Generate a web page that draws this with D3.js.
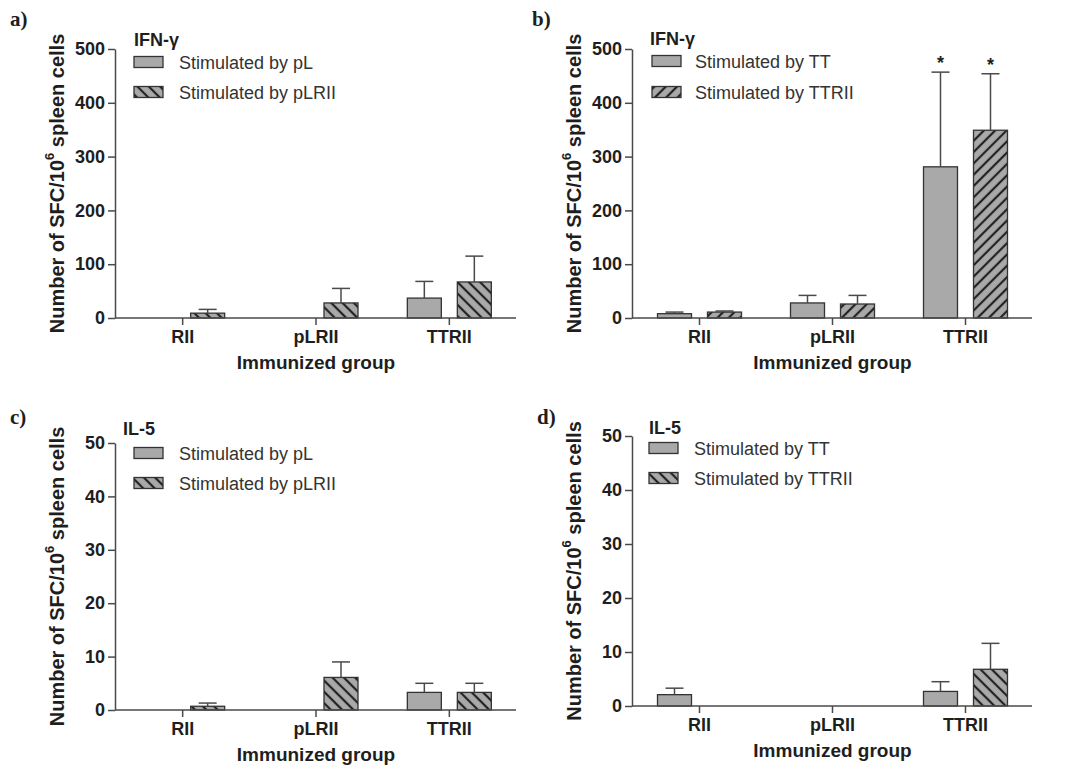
<!DOCTYPE html>
<html>
<head>
<meta charset="utf-8">
<script src="https://cdnjs.cloudflare.com/ajax/libs/d3/7.8.5/d3.min.js"></script>
<style>
  html, body { margin: 0; padding: 0; background: #ffffff; }
  svg { display: block; }
</style>
</head>
<body>
<svg id="chart" width="1089" height="776"></svg>
<script>
// ---------------- DATA ----------------
const categories = ["RII", "pLRII", "TTRII"];

const ticksIFN = [0, 100, 200, 300, 400, 500];
const ticksIL5 = [0, 10, 20, 30, 40, 50];

// Panel a) IFN-γ, stimulated by pL / pLRII
const seriesA = ["Stimulated by pL", "Stimulated by pLRII"];
const aPL      = [null, null, 37];
const aPLErr   = [null, null, 68];
const aPLRII   = [9, 28, 67];
const aPLRIIErr= [16, 55, 115];

// Panel b) IFN-γ, stimulated by TT / TTRII
const seriesB = ["Stimulated by TT", "Stimulated by TTRII"];
const bTT       = [8, 28, 281];
const bTTErr    = [11, 42, 457];
const bTTRII    = [11, 26, 349];
const bTTRIIErr = [13, 42, 454];
const bSignif   = [false, false, true];

// Panel c) IL-5, stimulated by pL / pLRII
const seriesC = ["Stimulated by pL", "Stimulated by pLRII"];
const cPL       = [null, null, 3.3];
const cPLErr    = [null, null, 5.0];
const cPLRII    = [0.7, 6.1, 3.3];
const cPLRIIErr = [1.3, 9.0, 5.0];

// Panel d) IL-5, stimulated by TT / TTRII
const seriesD = ["Stimulated by TT", "Stimulated by TTRII"];
const dTT       = [2.1, null, 2.7];
const dTTErr    = [3.3, null, 4.5];
const dTTRII    = [null, null, 6.8];
const dTTRIIErr = [null, null, 11.6];

// ---------------- LAYOUT ----------------
const panels = [
  { tag: "a)", tagX: 10, tagY: 26, title: "IFN-γ", ticks: ticksIFN, max: 500,
    x0: 115, x1: 516, yTop: 49, yBot: 318, ylabX: 57,
    titleX: 134, titleY: 46, legX: 134, legTextX: 179, legY: [62, 92], hatch: "hatchBack",
    series: seriesA, vals: [aPL, aPLRII], errs: [aPLErr, aPLRIIErr], sig: null },
  { tag: "b)", tagX: 532, tagY: 26, title: "IFN-γ", ticks: ticksIFN, max: 500,
    x0: 632, x1: 1032, yTop: 49, yBot: 318, ylabX: 574,
    titleX: 650, titleY: 45, legX: 652, legTextX: 695, legY: [61, 92], hatch: "hatchFwd",
    series: seriesB, vals: [bTT, bTTRII], errs: [bTTErr, bTTRIIErr], sig: bSignif },
  { tag: "c)", tagX: 10, tagY: 424, title: "IL-5", ticks: ticksIL5, max: 50,
    x0: 115, x1: 516, yTop: 443, yBot: 710, ylabX: 57,
    titleX: 123, titleY: 435, legX: 134, legTextX: 179, legY: [453, 483], hatch: "hatchBack",
    series: seriesC, vals: [cPL, cPLRII], errs: [cPLErr, cPLRIIErr], sig: null },
  { tag: "d)", tagX: 537, tagY: 424, title: "IL-5", ticks: ticksIL5, max: 50,
    x0: 632, x1: 1032, yTop: 436, yBot: 706, ylabX: 574,
    titleX: 649, titleY: 434, legX: 649, legTextX: 694, legY: [448, 478], hatch: "hatchBack",
    series: seriesD, vals: [dTT, dTTRII], errs: [dTTErr, dTTRIIErr], sig: null }
];

const FILL = "#a9a9a9";
const EDGE = "#333333";
const AXIS = "#4a4a4a";
const TEXT = "#1e1e1e";
const SANS = "'Liberation Sans', Arial, sans-serif";
const SERIF = "'Liberation Serif', 'Times New Roman', serif";

const svg = d3.select("#chart");
svg.append("rect").attr("width", 1089).attr("height", 776).attr("fill", "#ffffff");

// hatch patterns
const defs = svg.append("defs");
[["hatchBack", -45], ["hatchFwd", 45]].forEach(([id, ang]) => {
  const p = defs.append("pattern")
    .attr("id", id)
    .attr("patternUnits", "userSpaceOnUse")
    .attr("width", 8).attr("height", 8)
    .attr("patternTransform", `rotate(${ang})`);
  p.append("rect").attr("width", 8).attr("height", 8).attr("fill", FILL);
  p.append("line").attr("x1", 4).attr("y1", -1).attr("x2", 4).attr("y2", 9)
    .attr("stroke", "#222").attr("stroke-width", 2.2);
});

panels.forEach(P => {
  const g = svg.append("g");

  const x = d3.scaleBand().domain(categories).range([P.x0 + 1, P.x1]).padding(0);
  const xs = d3.scaleBand().domain([0, 1]).range([-42, 42]).paddingInner(0.32).paddingOuter(0);
  const y = d3.scaleLinear().domain([0, P.max]).range([P.yBot, P.yTop]);

  // panel tag
  g.append("text").attr("x", P.tagX).attr("y", P.tagY)
    .attr("font-family", SERIF).attr("font-weight", "bold").attr("font-size", 21)
    .attr("fill", TEXT).text(P.tag);

  // bars
  P.vals.forEach((arr, si) => {
    categories.forEach((c, ci) => {
      const v = arr[ci];
      if (v == null) return;
      const bx = x(c) + x.bandwidth() / 2 + xs(si);
      g.append("rect")
        .attr("x", bx).attr("y", y(v))
        .attr("width", xs.bandwidth()).attr("height", y(0) - y(v))
        .attr("fill", si === 0 ? FILL : `url(#${P.hatch})`)
        .attr("stroke", EDGE).attr("stroke-width", 1.3);
      const e = P.errs[si][ci];
      if (e != null) {
        const cx = bx + xs.bandwidth() / 2;
        g.append("line").attr("x1", cx).attr("x2", cx).attr("y1", y(v)).attr("y2", y(e))
          .attr("stroke", AXIS).attr("stroke-width", 1.5);
        g.append("line").attr("x1", cx - 9).attr("x2", cx + 9).attr("y1", y(e)).attr("y2", y(e))
          .attr("stroke", AXIS).attr("stroke-width", 1.5);
        if (P.sig && P.sig[ci]) {
          g.append("text").attr("x", cx).attr("y", y(e) - 3)
            .attr("text-anchor", "middle")
            .attr("font-family", SANS).attr("font-weight", "bold").attr("font-size", 18)
            .attr("fill", TEXT).text("*");
        }
      }
    });
  });

  // y axis
  const ya = g.append("g").attr("transform", `translate(${P.x0},0)`)
    .call(d3.axisLeft(y).tickValues(P.ticks).tickSize(7).tickSizeOuter(0).tickPadding(3));
  ya.select(".domain").attr("stroke", AXIS).attr("stroke-width", 1.5);
  ya.selectAll(".tick line").attr("stroke", AXIS).attr("stroke-width", 1.5);
  ya.selectAll(".tick text").attr("font-family", SANS).attr("font-weight", "bold")
    .attr("font-size", 18).attr("fill", TEXT);

  // x axis
  const xa = g.append("g").attr("transform", `translate(0,${P.yBot})`)
    .call(d3.axisBottom(x).tickSize(7).tickSizeOuter(0).tickPadding(5));
  xa.select(".domain").attr("stroke", AXIS).attr("stroke-width", 1.5)
    .attr("d", `M${P.x0},0H${P.x1}`);
  xa.selectAll(".tick line").attr("stroke", AXIS).attr("stroke-width", 1.5);
  xa.selectAll(".tick text").attr("font-family", SANS).attr("font-weight", "bold")
    .attr("font-size", 18).attr("fill", TEXT);

  // axis titles
  g.append("text")
    .attr("x", (x.range()[0] + x.range()[1]) / 2).attr("y", P.yBot + 51)
    .attr("text-anchor", "middle")
    .attr("font-family", SANS).attr("font-weight", "bold").attr("font-size", 19)
    .attr("fill", TEXT).text("Immunized group");

  const yl = g.append("text")
    .attr("transform", `translate(${P.ylabX},${(P.yTop + P.yBot) / 2}) rotate(-90)`)
    .attr("text-anchor", "middle").attr("dominant-baseline", "central")
    .attr("font-family", SANS).attr("font-weight", "bold").attr("font-size", 20)
    .attr("fill", TEXT);
  yl.append("tspan").text("Number of SFC/10");
  yl.append("tspan").attr("baseline-shift", "super").attr("font-size", 13).text("6");
  yl.append("tspan").text(" spleen cells");

  // title
  g.append("text").attr("x", P.titleX).attr("y", P.titleY)
    .attr("font-family", SANS).attr("font-weight", "bold").attr("font-size", 18)
    .attr("fill", TEXT).text(P.title);

  // legend
  P.series.forEach((s, si) => {
    const cy = P.legY[si];
    g.append("rect").attr("x", P.legX).attr("y", cy - 5.5).attr("width", 29).attr("height", 11)
      .attr("fill", si === 0 ? FILL : `url(#${P.hatch})`)
      .attr("stroke", EDGE).attr("stroke-width", 1.3);
    g.append("text").attr("x", P.legTextX).attr("y", cy + 6.5)
      .attr("font-family", SANS).attr("font-size", 18)
      .attr("fill", "#333").text(s);
  });
});
</script>
</body>
</html>
